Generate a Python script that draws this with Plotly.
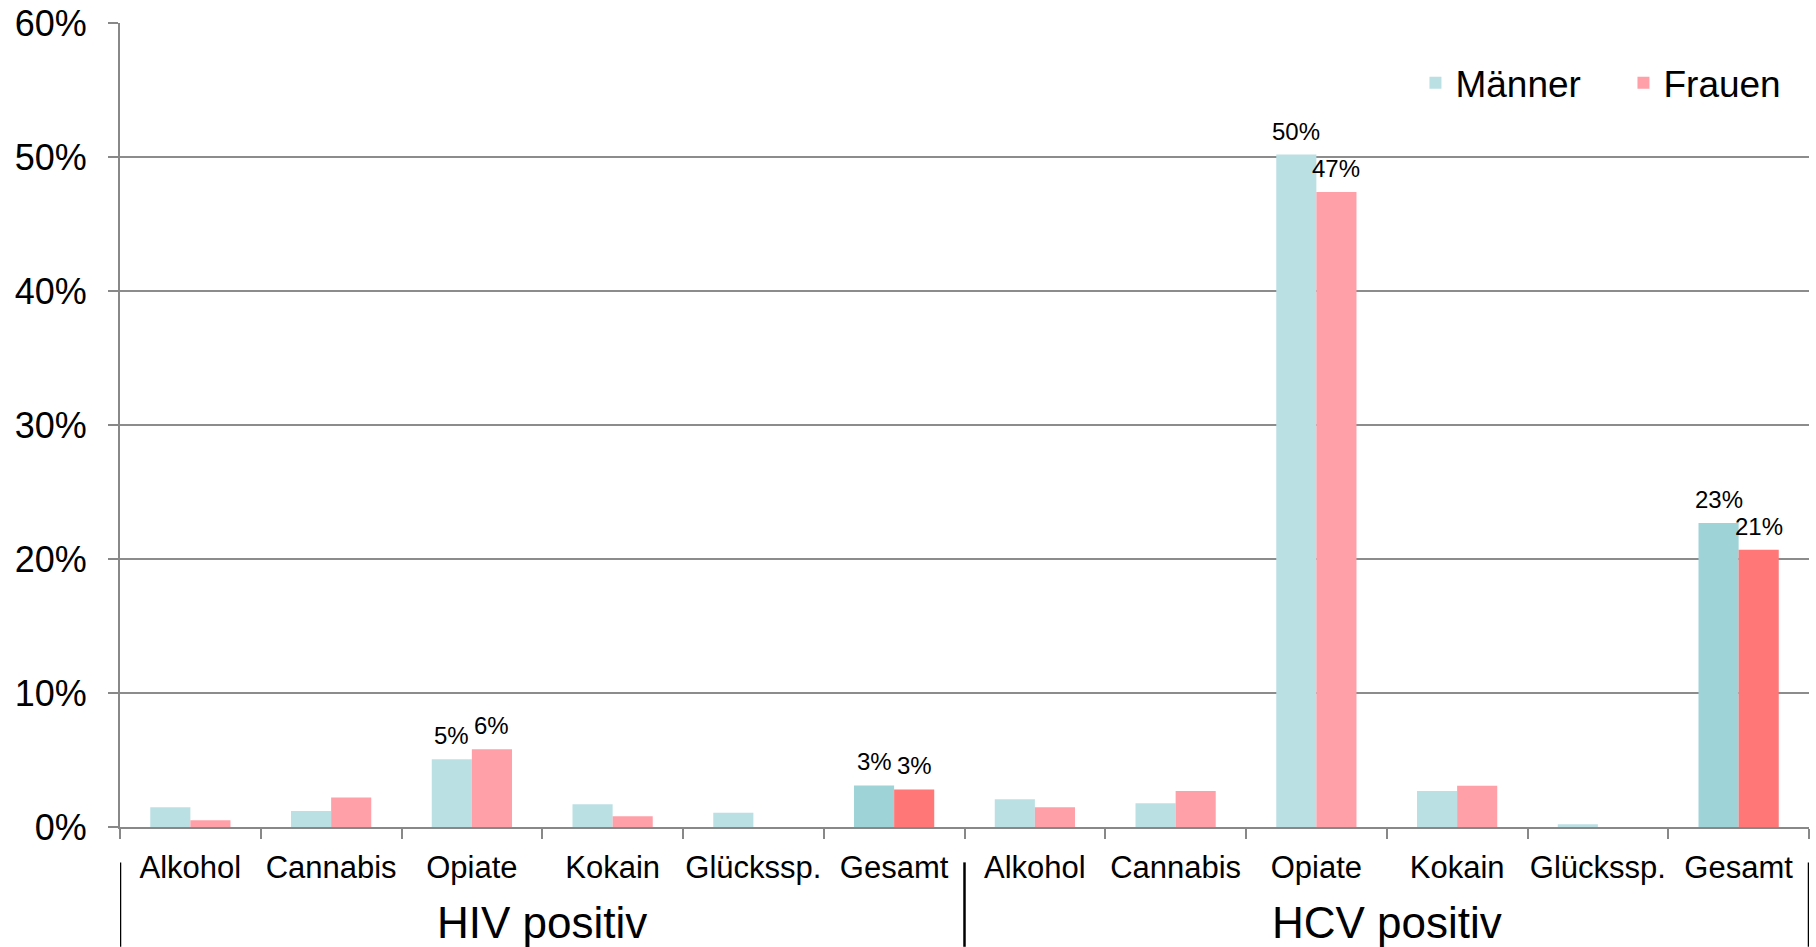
import plotly.graph_objects as go

groups = ["HIV positiv", "HCV positiv"]
substances = ["Alkohol", "Cannabis", "Opiate", "Kokain", "Glückssp.", "Gesamt"]

maenner_hiv = [0.0147, 0.0120, 0.0505, 0.0170, 0.0107, 0.0310]
frauen_hiv = [0.0050, 0.0220, 0.0580, 0.0080, 0.0, 0.0280]
maenner_hcv = [0.0207, 0.0177, 0.5020, 0.0269, 0.0020, 0.2270]
frauen_hcv = [0.0147, 0.0269, 0.4740, 0.0308, 0.0, 0.2070]

labelled = ["Opiate", "Gesamt"]
ytick_vals = [0, 0.1, 0.2, 0.3, 0.4, 0.5, 0.6]

c_m, c_m_total = "#BBE0E3", "#9ED3D8"
c_f, c_f_total = "#FFA0A8", "#FF7777"

x_keys = [f"{g}|{s}" for g in groups for s in substances]
x_text = [s for g in groups for s in substances]
men = maenner_hiv + maenner_hcv
women = frauen_hiv + frauen_hcv

def colors(base, total):
    return [total if s == "Gesamt" else base for g in groups for s in substances]

FONT = "Liberation Sans, Arial, sans-serif"

fig = go.Figure()
fig.add_trace(go.Bar(x=x_keys, y=men, name="Männer",
                     marker=dict(color=colors(c_m, c_m_total), line=dict(width=0))))
fig.add_trace(go.Bar(x=x_keys, y=women, name="Frauen",
                     marker=dict(color=colors(c_f, c_f_total), line=dict(width=0))))

annotations = []
for key, sub, vm, vf in zip(x_keys, x_text, men, women):
    if sub in labelled:
        for v, dx in ((vm, -20), (vf, 20)):
            annotations.append(dict(x=key, y=v, xref="x", yref="y",
                                    text=f"{round(v*100):.0f}%", showarrow=False,
                                    xshift=dx, yshift=8, yanchor="bottom",
                                    font=dict(size=24, color="black", family=FONT)))

n = len(substances)
for gi, g in enumerate(groups):
    annotations.append(dict(x=gi * n + (n - 1) / 2, y=-0.119, xref="x", yref="paper",
                            text=g, showarrow=False, yanchor="middle",
                            font=dict(size=44, color="black", family=FONT)))

shapes = []
for pos in [-0.5, n - 0.5, 2 * n - 0.5]:
    shapes.append(dict(type="line", xref="x", yref="paper", x0=pos, x1=pos,
                       y0=-0.044, y1=-0.149, line=dict(color="black", width=2.5)))

fig.update_layout(
    width=1816, height=947,
    margin=dict(l=120, r=7, t=23, b=120, autoexpand=False),
    paper_bgcolor="white", plot_bgcolor="white",
    barmode="group", bargap=0.43, bargroupgap=0,
    font=dict(family=FONT, color="black"),
    showlegend=True,
    legend=dict(orientation="h", x=0.767, xanchor="left", y=0.925, yanchor="middle",
                font=dict(size=37, family=FONT), bgcolor="rgba(0,0,0,0)",
                entrywidth=163, entrywidthmode="pixels", itemclick=False),
    annotations=annotations, shapes=shapes,
)
fig.update_xaxes(type="category", tickvals=x_keys, ticktext=x_text,
                 range=[-0.5, 2 * n - 0.5], automargin=False, tickangle=0,
                 showline=True, linecolor="#888888", linewidth=2,
                 ticks="outside", tickson="boundaries", ticklen=10, tickcolor="#888888",
                 tickwidth=2, ticklabelstandoff=12,
                 tickfont=dict(size=31, family=FONT, color="black"), showgrid=False)
fig.update_yaxes(range=[0, 0.6002], tickvals=ytick_vals, tickformat=".0%",
                 automargin=False, ticklabeloverflow="allow",
                 showline=True, linecolor="#888888", linewidth=2,
                 ticks="outside", ticklen=10, tickcolor="#888888", tickwidth=2,
                 ticklabelstandoff=14,
                 showgrid=True, gridcolor="#8c8c8c", gridwidth=1.5,
                 zeroline=False,
                 tickfont=dict(size=36, family=FONT, color="black"))

fig.write_html("out.html", config={"displayModeBar": False},
               post_script="document.body.style.margin='0';document.body.style.overflow='hidden';")
